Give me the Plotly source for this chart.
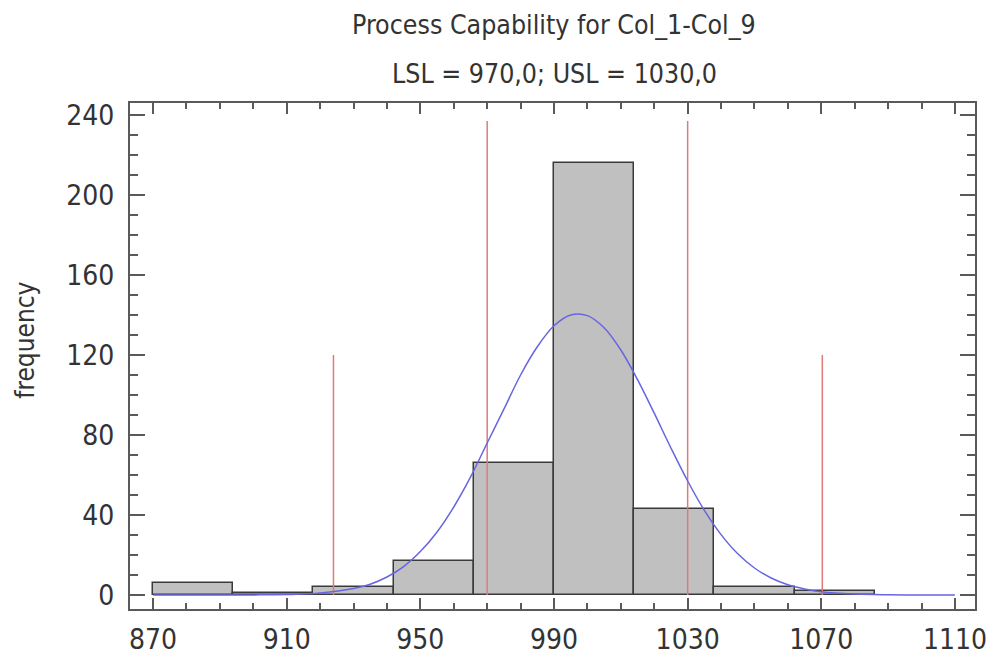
import plotly.graph_objects as go

# Histogram bins (left edges, width 24)
bin_left = [870, 894, 918, 942, 966, 990, 1014, 1038, 1062]
bin_width = 24
counts = [6, 1, 4, 17, 66, 216, 43, 4, 2]

# Fitted normal curve
curve_x = [870, 880, 890, 900, 910, 920, 930, 935, 940, 945, 950, 955, 960, 965, 970,
           975, 980, 985, 990, 995, 1000, 1005, 1010, 1015, 1020, 1025, 1030, 1035,
           1040, 1045, 1050, 1055, 1060, 1065, 1070, 1080, 1090, 1100, 1110]
curve_y = [0, 0, 0.01, 0.05, 0.24, 0.95, 3.2, 5.4, 9.0, 14.2, 21.7, 31.5, 44, 58.9, 76,
           92.9, 110, 124.1, 134.6, 140.0, 139.7, 133.6, 122.5, 107.7, 90.9, 73.5, 57, 42.3,
           30.2, 20.6, 13.5, 8.5, 5.1, 3.0, 1.6, 0.45, 0.1, 0.02, 0]

# Vertical reference lines: -3 sigma, LSL, USL, +3 sigma
ref_x = [924, 970, 1030, 1070.3]
ref_h = [120, 237, 237, 120]

x_ticks = [870, 910, 950, 990, 1030, 1070, 1110]
y_ticks = [0, 40, 80, 120, 160, 200, 240]

FONT = "Liberation Sans Narrow, Arial Narrow, DejaVu Sans Condensed, Arial, sans-serif"

fig = go.Figure()
fig.add_trace(go.Bar(
    x=[b + bin_width / 2 for b in bin_left], y=counts, width=bin_width,
    marker=dict(color="#c0c0c0", line=dict(color="#3a3a3a", width=1.5)),
    hoverinfo="x+y"))

lx, ly = [], []
for x, h in zip(ref_x, ref_h):
    lx += [x, x, None]
    ly += [0, h, None]
fig.add_trace(go.Scatter(x=lx, y=ly, mode="lines",
                         line=dict(color="#e07a7a", width=1.5)))
fig.add_trace(go.Scatter(x=curve_x, y=curve_y, mode="lines", line_shape="spline",
                         line=dict(color="#6666e0", width=1.5)))

axis_common = dict(showline=True, linecolor="#5a5a5a", linewidth=2, mirror="allticks",
                   ticks="inside", tickcolor="#5a5a5a", showgrid=False, zeroline=False,
                   automargin=False, ticklabeloverflow="allow",
                   tickfont=dict(family=FONT, size=28, color="#333333"))
fig.update_xaxes(range=[863.1, 1116], tickvals=x_ticks, ticklen=11, tickwidth=1.5,
                 minor=dict(dtick=10, tick0=870, ticklen=6, ticks="inside", tickcolor="#5a5a5a"),
                 ticklabelstandoff=4, **axis_common)
fig.update_yaxes(range=[-7, 246], tickvals=y_ticks, ticklen=15, tickwidth=1.5,
                 minor=dict(dtick=10, tick0=0, ticklen=8, ticks="inside", tickcolor="#5a5a5a"),
                 ticklabelstandoff=8, **axis_common)

fig.update_layout(
    width=986, height=655, showlegend=False, bargap=0,
    margin=dict(l=130, r=11, t=103, b=46),
    plot_bgcolor="white", paper_bgcolor="white",
    annotations=[
        dict(text="Process Capability for Col_1-Col_9", xref="paper", yref="paper",
             x=0.502, y=1, yshift=79, yanchor="middle", xanchor="center", showarrow=False,
             font=dict(family=FONT, size=26.5, color="#333333")),
        dict(text="LSL = 970,0; USL = 1030,0", xref="paper", yref="paper",
             x=0.502, y=1, yshift=30, yanchor="middle", xanchor="center", showarrow=False,
             font=dict(family=FONT, size=26.5, color="#333333")),
        dict(text="frequency", xref="paper", yref="paper", x=0, xshift=-105,
             xanchor="center", yanchor="middle",
             y=0.53, textangle=-90, showarrow=False,
             font=dict(family=FONT, size=26, color="#333333")),
    ],
)

fig.write_html("out.html", config={"displayModeBar": False},
               post_script="document.body.style.margin='0px';")
